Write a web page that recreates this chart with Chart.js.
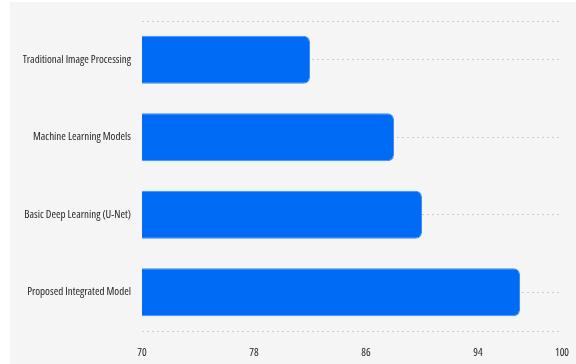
<!DOCTYPE html>
<html>
<head>
<meta charset="utf-8">
<script src="https://cdn.jsdelivr.net/npm/chart.js@4.4.1/dist/chart.umd.min.js"></script>
<style>
  html, body { margin: 0; padding: 0; background: #ffffff; }
  #wrap { position: absolute; left: 10px; top: 2px; width: 566px; height: 362px; background: #f5f5f6; }
</style>
</head>
<body>
<div id="wrap"><canvas id="myChart" width="566" height="362"></canvas></div>
<script>
// datos del grafico
const categorias = [
  "Traditional Image Processing",
  "Machine Learning Models",
  "Basic Deep Learning (U-Net)",
  "Proposed Integrated Model"
];
const precision = [82, 88, 90, 97];
const ticksX = [70, 78, 86, 94, 100];

const gridColor = "rgba(0, 0, 0, 0.16)";

Chart.defaults.font.family = "'Open Sans', sans-serif";
Chart.defaults.font.size = 11;
Chart.defaults.font.weight = "condensed";
Chart.defaults.color = "#262626";

//FUNCION GRAFICO
function graficoChart() {
  const ctx = document.getElementById("myChart").getContext("2d");

  new Chart(ctx, {
    type: "bar",
    data: {
      labels: categorias,
      datasets: [
        {
          data: precision,
          backgroundColor: "#006bf5",
          borderColor: "#3d8ef8",
          borderWidth: 1,
          borderSkipped: "start",
          borderRadius: 6,
          categoryPercentage: 0.62,
          barPercentage: 1,
        },
      ],
    },
    options: {
      indexAxis: "y",
      responsive: false,
      animation: false,
      layout: { padding: { top: 19, right: 14, bottom: 0, left: 0 } },
      plugins: {
        legend: { display: false },
        tooltip: { enabled: false },
      },
      scales: {
        x: {
          type: "linear",
          min: ticksX[0],
          max: ticksX[ticksX.length - 1],
          afterBuildTicks: (scale) => {
            scale.ticks = ticksX.map((v) => ({ value: v }));
          },
          afterFit: (scale) => {
            scale.height = 33;
            scale.paddingLeft = 0;
            scale.paddingRight = 0;
          },
          grid: { display: false, drawTicks: false },
          border: { display: false },
          ticks: { padding: 15 },
        },
        // lineas punteadas en el centro de cada categoria
        y: {
          grid: { display: true, offset: false, drawTicks: false, color: gridColor },
          border: { display: false, dash: [2, 3] },
          ticks: { padding: 11 },
          afterFit: (scale) => {
            scale.width = 132;
          },
        },
        // eje oculto: solo las lineas de arriba y abajo
        yBordes: {
          type: "category",
          position: "left",
          ticks: { display: false },
          border: { display: false, dash: [2, 3] },
          grid: {
            display: true,
            offset: true,
            drawTicks: false,
            // la ultima linea no tiene index (contexto de la escala)
            color: (c) => (c.index === 0 || c.index === undefined ? gridColor : "rgba(0,0,0,0)"),
          },
          afterFit: (scale) => {
            scale.width = 0;
          },
        },
      },
    },
  });
}

window.onload = function () {
  graficoChart();
};
</script>
</body>
</html>
